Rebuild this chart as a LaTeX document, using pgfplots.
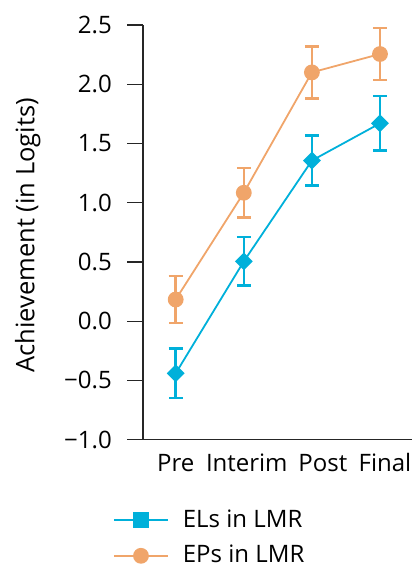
\documentclass[border=0pt]{standalone}
\usepackage{pgfplots}
\pgfplotsset{compat=1.18}
\usepackage{fontspec}
\setmainfont{Open Sans}
\definecolor{cblue}{RGB}{0,176,218}
\definecolor{corange}{RGB}{240,165,106}
\begin{document}
\fontsize{24}{29}\selectfont
\begin{tikzpicture}
\useasboundingbox (0pt,0pt) rectangle (412pt,564pt);
\begin{axis}[
  at={(143pt,124.3pt)}, anchor=south west,
  scale only axis, width=269pt, height=414.7pt,
  xmin=-0.48, xmax=3.47, ymin=-1, ymax=2.5,
  axis x line=bottom, axis y line=left,
  axis line style={-, line width=1.1pt, black!85},
  xtick={0,1,2,3}, xticklabels={Pre,{\hspace*{6pt}Interim},{\hspace*{22pt}Post},{\hspace*{10pt}Final}},
  x tick style={draw=none},
  xticklabel style={anchor=base, yshift=-16pt, inner sep=0pt},
  ytick={-1,-0.5,0,0.5,1,1.5,2,2.5},
  yticklabels={−1.0,−0.5,0.0,0.5,1.0,1.5,2.0,2.5},
  y tick style={line width=1.1pt, black!85},
  tick align=outside, major tick length=16pt,
  yticklabel style={anchor=east, inner sep=0pt, xshift=-15pt},
  ylabel={Achievement (in Logits)},
  ylabel style={at={(axis description cs:-0.428,0.493)}, anchor=center, rotate=0, font=\fontsize{25.5}{30}\selectfont},
  legend style={draw=none, fill=none, at={(axis description cs:-0.112,-0.163)}, anchor=north west, inner sep=0pt, row sep=10.5pt, font=\fontsize{24}{29}\selectfont,
    /tikz/every odd column/.append style={column sep=12pt}},
  legend cell align=left,
  legend image code/.code={\draw[mark repeat=2,mark phase=2,#1] plot coordinates {(0pt,0pt) (27pt,0pt) (54pt,0pt)};},
  clip=false,
]
\addplot[cblue, line width=1.8pt, mark=square*, mark size=5.4pt, mark options={rotate=45, solid},
  legend image post style={mark options={rotate=0, solid}, mark size=7pt},
  error bars/.cd, y dir=both, y explicit,
  error bar style={line width=2.4pt},
  error mark options={rotate=90, line width=2.4pt, mark size=7pt},
  ] coordinates {
  (0,-0.44) +- (0,0.21)
  (1,0.505) +- (0,0.205)
  (2,1.356) +- (0,0.21)
  (3,1.67) +- (0,0.23)
};
\addlegendentry{ELs in LMR}
\addplot[corange, line width=1.8pt, mark=*, mark size=7pt, mark options={solid},
  error bars/.cd, y dir=both, y explicit,
  error bar style={line width=2.4pt},
  error mark options={rotate=90, line width=2.4pt, mark size=7pt},
  ] coordinates {
  (0,0.183) +- (0,0.2)
  (1,1.084) +- (0,0.21)
  (2,2.10) +- (0,0.22)
  (3,2.255) +- (0,0.22)
};
\addlegendentry{EPs in LMR}
\end{axis}
\end{tikzpicture}
\end{document}
